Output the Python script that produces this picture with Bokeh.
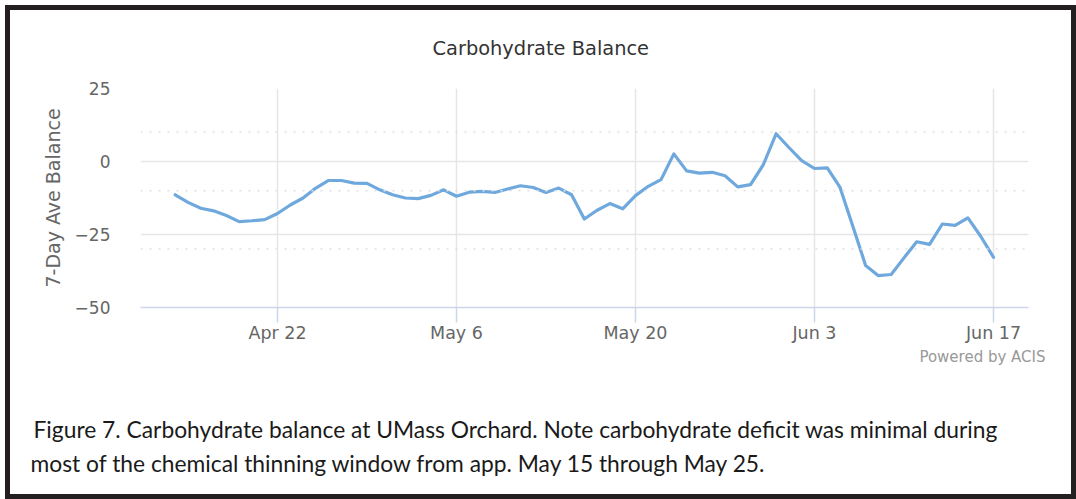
import pandas as pd
from bokeh.plotting import figure
from bokeh.models import (Range1d, FixedTicker, CustomJSTickFormatter, Span, Title,
                          ColumnDataSource)
from bokeh.embed import file_html
from bokeh.resources import INLINE

# ---------------- data ----------------
start_date = "2019-04-14"
balance = [
    -11.4, -14.0, -16.0, -16.9, -18.5, -20.6, -20.3, -19.9, -17.8, -14.9,
    -12.5, -9.1, -6.5, -6.5, -7.4, -7.5, -9.7, -11.4, -12.5, -12.7,
    -11.6, -9.7, -11.9, -10.5, -10.2, -10.6, -9.4, -8.3, -8.9, -10.6,
    -9.1, -11.4, -19.7, -16.7, -14.4, -16.2, -11.7, -8.5, -6.2, 2.6,
    -3.2, -4.0, -3.7, -4.9, -8.7, -7.9, -1.1, 9.5, 4.8, 0.3,
    -2.4, -2.2, -8.9, -22.2, -35.6, -39.1, -38.7, -33.0, -27.5, -28.4,
    -21.4, -21.9, -19.3, -25.6, -32.8,
]
x_tick_dates = ["2019-04-22", "2019-05-06", "2019-05-20", "2019-06-03", "2019-06-17"]
y_ticks = [-50, -25, 0, 25]
minor_levels = [10, -10, -30]

title_text = "Carbohydrate Balance"
y_label = "7-Day Ave Balance"
credit_text = "Powered by ACIS"
caption_lines = [
    "Figure 7. Carbohydrate balance at UMass Orchard. Note carbohydrate deficit was minimal during",
    "most of the chemical thinning window from app. May 15 through May 25.",
]

# ---------------- build ----------------
DAY = 86400000
dates = pd.date_range(start_date, periods=len(balance), freq="D")
src = ColumnDataSource(dict(date=dates, balance=balance))

def ms(d):
    return pd.Timestamp(d).value // 10**6

ref = ms(x_tick_dates[0])
p = figure(width=1061, height=484, x_axis_type="datetime",
           output_backend="svg", toolbar_location=None,
           x_range=Range1d(ref - 10.715 * DAY, ref + 58.74 * DAY),
           y_range=Range1d(-50, 25),
           min_border_left=130, min_border_right=53,
           min_border_top=78, min_border_bottom=197)
p.styles = {"box-sizing": "content-box", "margin": "5px 0 0 5px",
            "border": "5px solid #231f20"}
p.background_fill_color = "white"
p.border_fill_color = "white"
p.outline_line_color = None

# grids
p.xgrid.grid_line_color = "#e6e6e6"
p.xgrid.grid_line_width = 1.5
p.ygrid.grid_line_color = "#e6e6e6"
p.ygrid.grid_line_width = 1.5

for lv in minor_levels:
    p.add_layout(Span(location=lv, dimension="width", line_color="#e0e0e0",
                      line_width=1.5, line_dash="2 7"))

# x axis
xa = p.xaxis[0]
xa.ticker = FixedTicker(ticks=[ms(d) for d in x_tick_dates])
xa.formatter = CustomJSTickFormatter(code="""
const m = ["Jan","Feb","Mar","Apr","May","Jun","Jul","Aug","Sep","Oct","Nov","Dec"];
const d = new Date(tick);
return m[d.getUTCMonth()] + " " + d.getUTCDate();
""")
xa.axis_line_color = "#ccd6eb"
xa.axis_line_width = 1.5
xa.major_tick_line_color = "#ccd6eb"
xa.major_tick_line_width = 1.5
xa.major_tick_out = 15
xa.major_tick_in = 0
xa.minor_tick_line_color = None
xa.major_label_standoff = 0
xa.major_label_text_font = "DejaVu Sans"
xa.major_label_text_font_size = "17.5px"
xa.major_label_text_color = "#666666"

# y axis
ya = p.yaxis[0]
ya.ticker = FixedTicker(ticks=y_ticks)
ya.formatter = CustomJSTickFormatter(code="""
return tick < 0 ? "\u2212" + Math.abs(tick) : String(tick);
""")
ya.axis_line_color = None
ya.major_tick_line_color = None
ya.minor_tick_line_color = None
ya.major_label_standoff = 24
ya.major_label_text_font = "DejaVu Sans"
ya.major_label_text_font_size = "17px"
ya.major_label_text_color = "#666666"
ya.axis_label = y_label
ya.axis_label_standoff = 8
ya.axis_label_text_font = "DejaVu Sans"
ya.axis_label_text_font_size = "19px"
ya.axis_label_text_font_style = "normal"
ya.axis_label_text_color = "#666666"

# series
p.line("date", "balance", source=src, line_color="#6fa8dc", line_width=3.2,
       line_join="round", line_cap="round")

# chart title (a thin spacer panel sits between the frame and the title)
p.add_layout(Title(text=" ", align="left", standoff=26,
                   text_font="DejaVu Sans", text_font_size="1px",
                   text_color="white"), "above")
p.add_layout(Title(text=title_text, align="left", offset=292, standoff=0,
                   text_font="DejaVu Sans", text_font_size="19.4px",
                   text_font_style="normal", text_color="#333333"), "above")
# credit + caption below the x axis (stacked panels, nearest first)
p.add_layout(Title(text=credit_text, align="right", offset=-17, standoff=0,
                   text_font="DejaVu Sans", text_font_size="15px",
                   text_font_style="normal", text_color="#999999"), "below")
p.add_layout(Title(text=" ", align="left", standoff=42,
                   text_font="DejaVu Sans", text_font_size="1px",
                   text_color="white"), "below")
p.add_layout(Title(text=caption_lines[0], align="left", offset=-107, standoff=4,
                   text_font="Lato", text_font_size="22.8px",
                   text_font_style="normal", text_color="#1a1a1a"), "below")
p.add_layout(Title(text=caption_lines[1], align="left", offset=-110, standoff=4,
                   text_font="Lato", text_font_size="22.8px",
                   text_font_style="normal", text_color="#1a1a1a"), "below")

open("out.html", "w").write(file_html(p, INLINE))
